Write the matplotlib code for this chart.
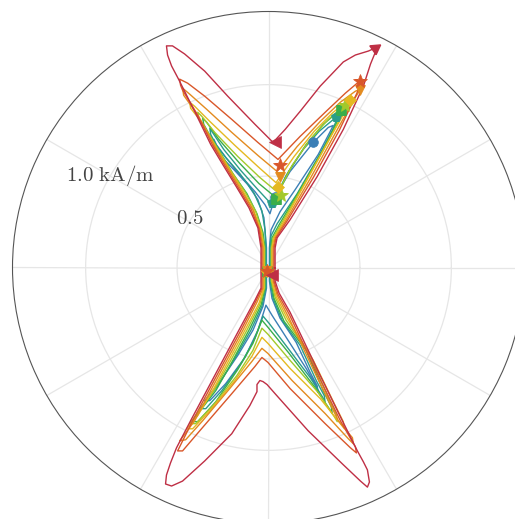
import numpy as np
import matplotlib
matplotlib.use("Agg")
import matplotlib.pyplot as plt

plt.rcParams['mathtext.fontset'] = 'cm'

# field loci (Hx, Hy) in A/m, inner loop first
hx_blue = [5, 5, 14, 63, 146, 272, 338, 354, 327, 245, 118, 36, 8, -19, -74, -157, -234, -283, -299, -299,
           -266, -190, -113, -58, -25, -11, -11, -11, -30, -85, -168, -261, -327, -349, -321, -234, -129, -58,
           -14, 19, 107, 206, 261, 272, 266, 228, 151, 63, 19, 5, 5]
hy_blue = [-3, 107, 206, 305, 426, 618, 745, 777, 766, 684, 525, 387, 294, 343, 415, 508, 602, 668, 701, 662,
           613, 536, 453, 371, 272, 107, -3, -113, -212, -343, -481, -618, -701, -728, -728, -635, -492, -343,
           -206, -261, -398, -552, -651, -684, -646, -574, -409, -277, -168, -74, -3]

hx_teal = [8, 8, 14, 47, 157, 277, 349, 376, 349, 277, 190, 96, 19, -58, -151, -245, -299, -321, -316, -288,
           -234, -157, -80, -36, -19, -14, -14, -14, -36, -96, -184, -277, -349, -376, -343, -255, -146, -74,
           -30, 3, 107, 228, 294, 310, 305, 261, 173, 74, 25, 8, 8]
hy_teal = [-3, 107, 173, 239, 404, 613, 750, 816, 805, 745, 646, 503, 343, 426, 530, 646, 728, 761, 728, 673,
           602, 514, 409, 310, 206, 107, -3, -113, -212, -343, -497, -646, -739, -772, -772, -673, -519, -387,
           -266, -305, -442, -602, -706, -739, -701, -618, -426, -288, -168, -74, -3]

hx_green = [14, 14, 19, 58, 173, 299, 371, 398, 371, 299, 206, 113, 41, -52, -157, -272, -338, -360, -354, -321,
            -261, -195, -118, -63, -30, -19, -19, -19, -41, -107, -195, -288, -382, -420, -387, -288, -168, -85,
            -36, -3, 113, 255, 332, 349, 343, 299, 206, 85, 30, 14, 14]
hy_green = [-3, 107, 162, 234, 426, 646, 788, 854, 843, 783, 673, 530, 382, 459, 569, 701, 794, 816, 783, 723,
            624, 514, 404, 294, 190, 107, -3, -113, -206, -343, -508, -673, -794, -843, -843, -734, -558, -415,
            -288, -327, -470, -657, -772, -799, -761, -673, -453, -294, -168, -74, -3]

hx_lime = [16, 16, 25, 69, 190, 321, 398, 426, 398, 327, 228, 129, 52, -47, -168, -294, -365, -387, -382, -343,
           -272, -206, -129, -69, -36, -22, -22, -22, -47, -118, -206, -299, -387, -431, -398, -299, -173, -85,
           -36, -3, 118, 272, 360, 376, 371, 327, 228, 96, 36, 16, 16]
hy_lime = [-3, 107, 162, 239, 448, 679, 827, 882, 871, 810, 701, 558, 409, 492, 607, 739, 827, 849, 816, 755,
           640, 530, 415, 305, 195, 107, -3, -113, -201, -343, -508, -673, -794, -854, -854, -750, -591, -453,
           -332, -365, -508, -684, -816, -843, -805, -712, -481, -288, -162, -74, -3]

hx_yellow = [19, 19, 30, 80, 206, 338, 420, 453, 426, 354, 250, 140, 41, -58, -184, -321, -404, -431, -426, -365,
             -283, -217, -140, -80, -41, -25, -25, -25, -52, -129, -217, -305, -387, -448, -415, -321, -184, -91,
             -36, -3, 118, 283, 393, 415, 409, 360, 245, 102, 41, 19, 19]
hy_yellow = [-3, 107, 162, 245, 470, 712, 854, 915, 904, 849, 745, 607, 464, 552, 668, 799, 882, 904, 871, 794,
             651, 541, 420, 310, 201, 107, -3, -113, -195, -343, -508, -673, -810, -882, -882, -783, -618, -486,
             -382, -415, -552, -717, -854, -882, -843, -745, -508, -277, -157, -74, -3]

hx_orange = [25, 25, 36, 91, 228, 371, 459, 503, 475, 393, 283, 157, 47, -58, -201, -338, -431, -470, -464, -382,
             -294, -228, -151, -85, -47, -30, -30, -30, -63, -140, -228, -316, -404, -464, -486, -453, -360, -212,
             -91, -36, -3, 129, 310, 437, 464, 459, 382, 261, 107, 47, 25, 25]
hy_orange = [-3, 107, 162, 250, 486, 745, 904, 975, 964, 904, 799, 662, 525, 613, 739, 865, 948, 981, 942, 827,
             662, 552, 426, 316, 206, 107, -3, -113, -190, -343, -508, -673, -838, -920, -948, -942, -838, -662,
             -514, -442, -470, -618, -799, -937, -964, -931, -838, -591, -266, -151, -74, -3]

hx_redorange = [30, 30, 41, 102, 245, 387, 481, 514, 492, 420, 310, 173, 52, -58, -201, -349, -442, -486, -481,
                -470, -393, -305, -239, -162, -96, -52, -36, -36, -36, -69, -151, -239, -327, -415, -475, -497,
                -470, -376, -201, -74, -36, -3, 118, 310, 448, 481, 475, 393, 272, 113, 52, 30, 30]
hy_redorange = [-3, 107, 162, 255, 492, 750, 948, 1025, 1014, 953, 849, 717, 591, 684, 810, 937, 1008, 1030, 997,
                970, 843, 668, 558, 431, 321, 212, 107, -3, -113, -184, -343, -508, -673, -838, -959, -1003,
                -1003, -893, -690, -541, -492, -519, -662, -854, -986, -1014, -981, -838, -591, -255, -146, -74, -3]

hx_crimson = [36, 36, 47, 118, 266, 409, 519, 558, 596, 547, 475, 409, 283, 173, 91, 25, -74, -223, -349, -459,
              -525, -558, -552, -530, -492, -404, -316, -250, -173, -107, -58, -41, -41, -41, -74, -162, -250,
              -338, -426, -503, -536, -558, -563, -530, -470, -349, -201, -102, -63, -63, -47, -30, -8, 36, 217,
              404, 503, 541, 552, 541, 519, 486, 404, 283, 118, 58, 36, 36]
hy_crimson = [-3, 107, 162, 261, 497, 755, 992, 1113, 1206, 1184, 1162, 1124, 992, 854, 755, 684, 783, 937, 1074,
              1168, 1212, 1212, 1162, 1102, 1030, 854, 673, 563, 437, 327, 217, 107, -3, -113, -179, -343, -508,
              -673, -838, -986, -1069, -1135, -1184, -1195, -1168, -1058, -909, -755, -679, -640, -618, -624,
              -640, -690, -893, -1074, -1168, -1201, -1173, -1107, -1063, -1003, -838, -591, -245, -140, -74, -3]

# marked samples on each locus (A/m)
mk_blue = ([245, 36, -8], [684, 387, -20])
mk_teal = ([371, 19, -8], [821, 354, -20])
mk_green = ([398, 41, -8], [860, 376, -20])
mk_lime = ([420, 69, -8], [887, 398, -20])
mk_yellow = ([448, 52, -8], [915, 442, -20])
mk_orange = ([503, 63, -8], [970, 497, -20])
mk_redorange = ([503, 63, -8], [1019, 558, -20])
mk_crimson = ([36, 19], [684, -41])
mk_crimson_tip = ([580], [1201])

colors = ['#3b7fb6', '#2a9d8a', '#3aae4a', '#a3c92b', '#e5b921', '#e38b1f', '#d9572a', '#bf2f45']
markers = ['o', 'p', 's', '*', 'D', 'v', '*', '<']
msizes = [7, 7.5, 6.5, 10, 6, 7.5, 10, 9]

loci = [(hx_blue, hy_blue, mk_blue), (hx_teal, hy_teal, mk_teal), (hx_green, hy_green, mk_green),
        (hx_lime, hy_lime, mk_lime), (hx_yellow, hy_yellow, mk_yellow), (hx_orange, hy_orange, mk_orange),
        (hx_redorange, hy_redorange, mk_redorange), (hx_crimson, hy_crimson, mk_crimson)]


def to_polar(hx, hy):
    x = np.asarray(hx, float) / 1000.0
    y = np.asarray(hy, float) / 1000.0
    return np.arctan2(y, x), np.hypot(x, y)


fig = plt.figure(figsize=(5.15, 5.19), dpi=100)
ax = fig.add_axes([12.5 / 515, -4.5 / 519, 512 / 515, 512 / 519], projection='polar')

for (hx, hy, mk), col in zip(loci, colors):
    th, r = to_polar(hx, hy)
    ax.plot(th, r, color=col, lw=1.0, zorder=3, solid_joinstyle='round')

for (hx, hy, mk), col, m, ms in zip(loci, colors, markers, msizes):
    th, r = to_polar(*mk)
    ax.plot(th, r, ls='none', marker=m, ms=ms, color=col, mec=col, mew=0.5, zorder=4)

th, r = to_polar(*mk_crimson_tip)
ax.plot(th, r, ls='none', marker=(3, 0, -55), ms=9, color=colors[-1], zorder=4)

ax.set_rlim(0, 1.4)
ax.set_rticks([0.5, 1.0])
ax.set_yticklabels([])
ax.set_thetagrids(np.arange(0, 360, 30), labels=[''] * 12)
ax.tick_params(length=0)
ax.grid(True, color='#e6e6e6', lw=0.9)
ax.spines['polar'].set_color('#555555')
ax.spines['polar'].set_linewidth(0.8)

ax.text(np.deg2rad(147.8), 0.51, r'$0.5$', fontsize=15, color='#444444', ha='center', va='center')
ax.text(np.deg2rad(149.7), 1.0, r'$1.0\ \mathrm{kA/m}$', fontsize=15, color='#444444',
        ha='center', va='center')

fig.savefig('out.png', dpi=100)
